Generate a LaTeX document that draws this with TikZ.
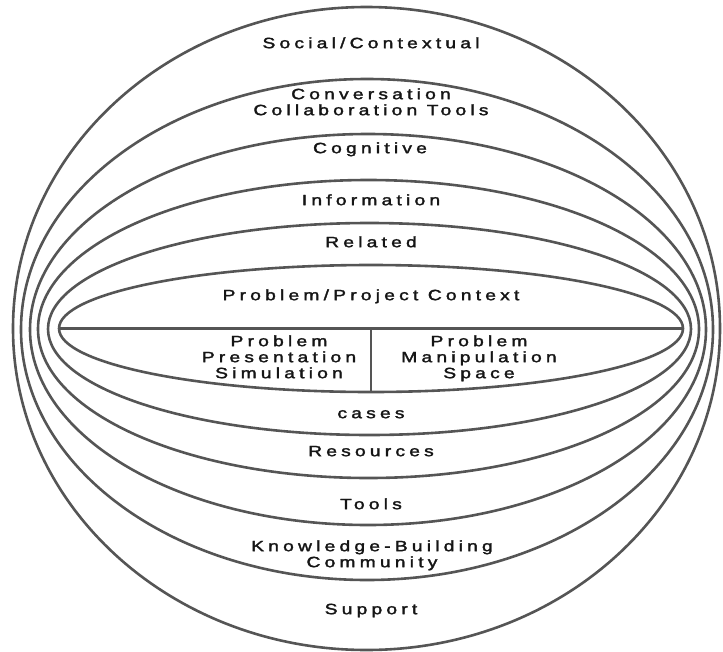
\documentclass[tikz,border=0pt]{standalone}
\usepackage{fontspec}
\usepackage{graphicx}
\setmainfont{Liberation Sans}[LetterSpace=22, FakeBold=1.8]
\usetikzlibrary{shapes.geometric}

% widened, letter-spaced label text
\newcommand{\widelabel}[1]{\scalebox{1.28}[1]{\begin{tabular}{@{}c@{}}#1\end{tabular}}}

\tikzset{
  ring/.style={ellipse, draw=ringgray, line width=2.6pt, inner sep=0pt, outer sep=0pt},
  lbl/.style={text=labelink, inner sep=0pt, font=\fontsize{15}{16}\selectfont},
  divider/.style={draw=ringgray, line width=2.3pt},
}
\definecolor{ringgray}{HTML}{555555}
\definecolor{labelink}{HTML}{151515}

\begin{document}
\begin{tikzpicture}[x=1pt, y=-1pt]
  \useasboundingbox (0,0) rectangle (723,651);

  % nested layers, outermost first
  \node[ring, minimum width=707pt, minimum height=643pt] (social) at (366.5,328.5) {};
  \node[ring, minimum width=692pt, minimum height=501pt] (conv)   at (367,329.5) {};
  \node[ring, minimum width=676pt, minimum height=391pt] (cogn)   at (368,329.5) {};
  \node[ring, minimum width=661pt, minimum height=298pt] (info)   at (368.5,329) {};
  \node[ring, minimum width=643pt, minimum height=212pt] (rel)    at (369.5,329) {};
  \node[ring, minimum width=624pt, minimum height=127pt] (prob)   at (371,328.5) {};

  % split of the problem space
  \coordinate (split) at (371,328.5);
  \draw[divider] (prob.west) -- (prob.east);
  \draw[divider] (split) -- (prob.south);

  % upper labels
  \node[lbl] (tSocial) at (371,45)  {\widelabel{Social/Contextual}};
  \node[lbl] (tConv)   at (371,104) {\widelabel{Conversation\\Collaboration Tools}};
  \node[lbl] (tCogn)   at (370,150) {\widelabel{Cognitive}};
  \node[lbl] (tInfo)   at (371,202) {\widelabel{Information}};
  \node[lbl] (tRel)    at (371,244) {\widelabel{Related}};
  \node[lbl] (tCtx)    at (371,297) {\widelabel{Problem/Project Context}};

  % problem space halves
  \node[lbl] (tPres)   at (279,359) {\widelabel{Problem\\Presentation\\Simulation}};
  \node[lbl] (tManip)  at (479,359) {\widelabel{Problem\\Manipulation\\Space}};

  % lower labels
  \node[lbl] (tCases)  at (371,415) {\widelabel{cases}};
  \node[lbl] (tRes)    at (371,453) {\widelabel{Resources}};
  \node[lbl] (tTools)  at (371,506) {\widelabel{Tools}};
  \node[lbl] (tKbc)    at (372,556) {\widelabel{Knowledge-Building\\Community}};
  \node[lbl] (tSup)    at (371,611) {\widelabel{Support}};
\end{tikzpicture}
\end{document}
